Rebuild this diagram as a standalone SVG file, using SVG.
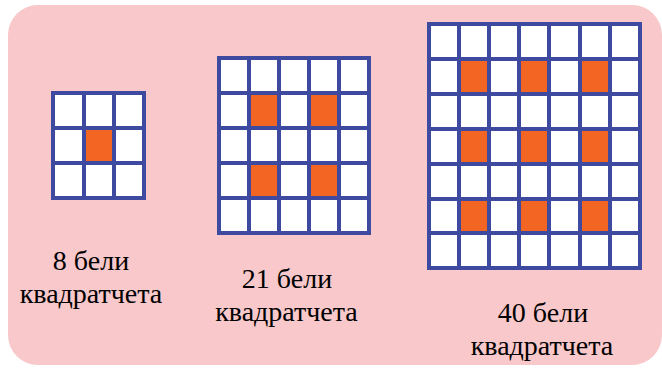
<svg xmlns="http://www.w3.org/2000/svg" width="662" height="368" viewBox="0 0 662 368">
<rect width="662" height="368" fill="#FFFFFF"/>
<rect x="8" y="5" width="654" height="360" rx="30" fill="#F8C8CA"/>
<g id="grid1">
<rect x="53" y="93" width="91" height="105" fill="#FFFFFF"/>
<rect x="84" y="128" width="30" height="35" fill="#F26522"/>
<path d="M53,93V198M84,93V198M114,93V198M144,93V198M51,93H146M51,128H146M51,163H146M51,198H146" stroke="#3D4A9F" stroke-width="4" fill="none"/>
</g>
<g id="grid2">
<rect x="219" y="58" width="150" height="175" fill="#FFFFFF"/>
<g fill="#F26522">
<rect x="249" y="93" width="30" height="35"/>
<rect x="309" y="93" width="30" height="35"/>
<rect x="249" y="163" width="30" height="35"/>
<rect x="309" y="163" width="30" height="35"/>
</g>
<path d="M219,58V233M249,58V233M279,58V233M309,58V233M339,58V233M369,58V233M217,58H371M217,93H371M217,128H371M217,163H371M217,198H371M217,233H371" stroke="#3D4A9F" stroke-width="4" fill="none"/>
</g>
<g id="grid3">
<rect x="429" y="24" width="211" height="244" fill="#FFFFFF"/>
<g fill="#F26522">
<rect x="459" y="59" width="30" height="35"/>
<rect x="519" y="59" width="30" height="35"/>
<rect x="580" y="59" width="30" height="35"/>
<rect x="459" y="129" width="30" height="35"/>
<rect x="519" y="129" width="30" height="35"/>
<rect x="580" y="129" width="30" height="35"/>
<rect x="459" y="199" width="30" height="34"/>
<rect x="519" y="199" width="30" height="34"/>
<rect x="580" y="199" width="30" height="34"/>
</g>
<path d="M429,24V268M459,24V268M489,24V268M519,24V268M549,24V268M580,24V268M610,24V268M640,24V268M427,24H642M427,59H642M427,94H642M427,129H642M427,164H642M427,199H642M427,233H642M427,268H642" stroke="#3D4A9F" stroke-width="4" fill="none"/>
</g>
<g id="label1">
<text x="91" y="270" font-family="Liberation Serif" font-size="28" text-anchor="middle">8 бели</text>
<text x="91" y="303" font-family="Liberation Serif" font-size="28" text-anchor="middle">квадратчета</text>
</g>
<g id="label2">
<text x="287" y="288" font-family="Liberation Serif" font-size="28" text-anchor="middle">21 бели</text>
<text x="286.5" y="321" font-family="Liberation Serif" font-size="28" text-anchor="middle">квадратчета</text>
</g>
<g id="label3">
<text x="543" y="322" font-family="Liberation Serif" font-size="28" text-anchor="middle">40 бели</text>
<text x="542" y="355" font-family="Liberation Serif" font-size="28" text-anchor="middle">квадратчета</text>
</g>
<g id="connectors"/>
</svg>
